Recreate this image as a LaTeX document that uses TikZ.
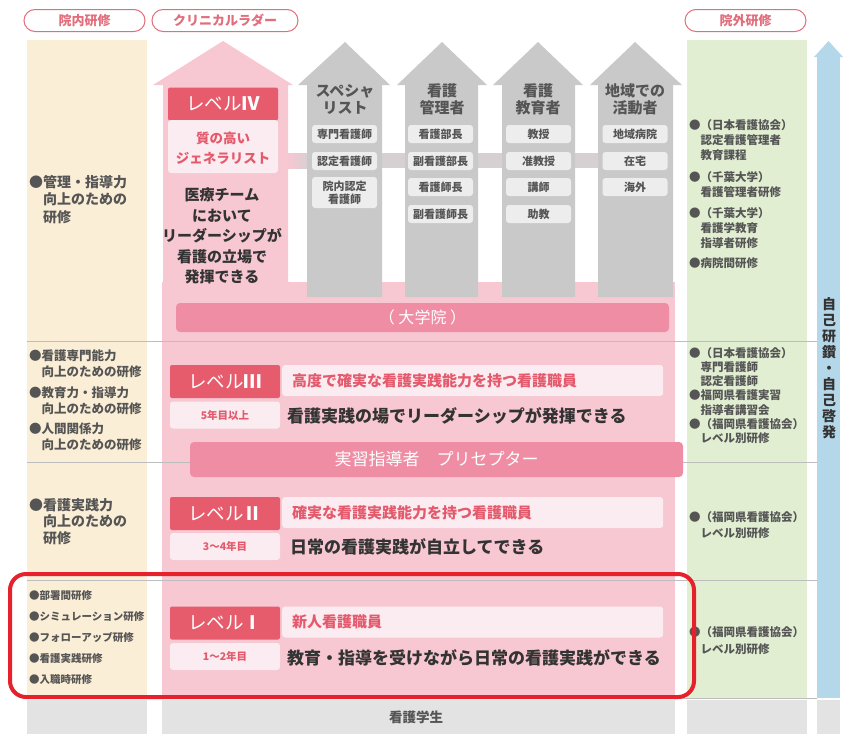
\documentclass[tikz,border=0pt]{standalone}
\usepackage{fontspec}
\setmainfont{Noto Sans CJK JP}
\newcommand\myfs[2]{\fontsize{#1}{#2}\selectfont}
\definecolor{beige}{HTML}{FBEED6}
\definecolor{pinkc}{HTML}{F7C7D2}
\definecolor{redhd}{HTML}{E65C6C}
\definecolor{lightpk}{HTML}{FBECF1}
\definecolor{subpk}{HTML}{E45A6C}
\definecolor{barpk}{HTML}{EF8DA4}
\definecolor{graya}{HTML}{C9C9C9}
\definecolor{graybar}{HTML}{D6D0D2}
\definecolor{grayb}{HTML}{EDEDED}
\definecolor{grayt}{HTML}{555555}
\definecolor{greenc}{HTML}{E1EED2}
\definecolor{bluec}{HTML}{B4D8EA}
\definecolor{band}{HTML}{E3E3E3}
\definecolor{pillc}{HTML}{E26D7B}
\definecolor{hl}{HTML}{E6212B}
\definecolor{dark}{HTML}{333333}
\definecolor{sep}{HTML}{BDBDBD}
\begin{document}
\begin{tikzpicture}[x=1pt,y=-1pt,
  pill/.style={draw=pillc,line width=1pt,fill=white,rounded corners=11pt,minimum height=22pt,text=pillc,font=\myfs{13}{15}\bfseries,inner sep=0pt},
  lvhead/.style={fill=redhd,rounded corners=2pt,minimum width=110pt,minimum height=33pt,text=white,font=\myfs{18.5}{20},inner sep=0pt},
  lightbox/.style={fill=lightpk,rounded corners=3pt,inner sep=0pt},
  yearbox/.style={lightbox,minimum width=110pt,minimum height=27pt,text=subpk,font=\myfs{10.5}{12}\bfseries},
  subtxt/.style={text=subpk,font=\myfs{15}{17}\bfseries,inner sep=0pt,anchor=west},
  darktxt/.style={text=dark,font=\myfs{17}{19}\bfseries,inner sep=0pt,anchor=west},
  graybox/.style={fill=grayb,rounded corners=3pt,minimum width=65pt,minimum height=18pt,text=grayt,font=\myfs{11}{13}\bfseries,inner sep=0pt,align=center},
  arrowtitle/.style={text=grayt,font=\myfs{15}{16.5}\bfseries,align=center,inner sep=0pt},
  coltxt/.style={text=grayt,inner sep=0pt,align=left,anchor=west},
  bigbar/.style={fill=barpk,rounded corners=4pt,inner sep=0pt,text=white}
]
\useasboundingbox (0,0) rectangle (843,734);
% header pills
\node[pill,minimum width=121pt] (p1) at (84.5,20.5) {院内研修};
\node[pill,minimum width=146pt] (p2) at (225,20.5) {クリニカルラダー};
\node[pill,minimum width=121pt] (p3) at (745.5,20.5) {院外研修};
% columns
\fill[beige] (27,40) rectangle (147,698);
\fill[greenc] (687,40) rectangle (807,698);
\fill[bluec] (817,56) rectangle (840,698);
\fill[bluec] (814,57) -- (828.5,41) -- (843,57) -- cycle;
\fill[pinkc] (162,282) rectangle (675,698);
% level IV arrow
\fill[pinkc] (163,290) -- (163,85) -- (153,85) -- (223,41) -- (293,85) -- (288,85) -- (288,290) -- cycle;
% connecting bar
\fill[left color=pinkc,right color=graybar] (287,153) rectangle (310,168);
\fill[graybar] (310,153) rectangle (600,168);
% gray arrows
\foreach \a/\sl/\sr/\rl/\rr in {345/307/382/298/390,442/405/478/397/487,538/502/575/493/583,635/598/673/590/682}
  \fill[graya] (\sl,297) -- (\sl,85) -- (\rl,85) -- (\a,42) -- (\rr,85) -- (\sr,85) -- (\sr,297) -- cycle;
% arrow titles
\node[arrowtitle] (t1) at (345,99.5) {スペシャ\\リスト};
\node[arrowtitle] (t2) at (442,99.5) {看護\\管理者};
\node[arrowtitle] (t3) at (538,99.5) {看護\\教育者};
\node[arrowtitle] (t4) at (635,99.5) {地域での\\活動者};
% gray boxes
\node[graybox] (b11) at (344.5,134) {専門看護師};
\node[graybox] (b12) at (344.5,161) {認定看護師};
\node[graybox,minimum height=31pt,font=\myfs{11}{13}\bfseries] (b13) at (344.5,192.5) {院内認定\\看護師};
\node[graybox] (b21) at (440.5,134) {看護部長};
\node[graybox] (b22) at (440.5,161) {副看護部長};
\node[graybox] (b23) at (440.5,187) {看護師長};
\node[graybox] (b24) at (440.5,214) {副看護師長};
\node[graybox] (b31) at (538.5,134) {教授};
\node[graybox] (b32) at (538.5,161) {准教授};
\node[graybox] (b33) at (538.5,187) {講師};
\node[graybox] (b34) at (538.5,214) {助教};
\node[graybox] (b41) at (635,134) {地域病院};
\node[graybox] (b42) at (635,161) {在宅};
\node[graybox] (b43) at (635,187) {海外};
% separator lines
\foreach \yy in {341,462,580,698}
  \draw[sep,line width=0.8pt] (27,\yy) -- (817,\yy);
% bottom band
\fill[band] (27,700) rectangle (147,734);
\fill[band] (162,700) rectangle (675,734);
\fill[band] (687,700) rectangle (807,734);
\fill[band] (817,700) rectangle (840,734);
\node[text=grayt,font=\myfs{13.5}{15}\bfseries] (student) at (416,717) {看護学生};
% Level IV
\node[lvhead] (l4h) at (223,104) {レベル{\bfseries Ⅳ}};
\node[lightbox,minimum width=110pt,minimum height=53pt] (l4s) at (223,146.5) {};
\node[text=subpk,font=\myfs{13.5}{20}\bfseries,align=center,inner sep=0pt] (l4st) at (223,148) {質の高い\\ジェネラリスト};
\node[text=dark,font=\myfs{15}{20.5}\bfseries,align=center,inner sep=0pt] (l4d) at (222,236) {医療チーム\\において\\リーダーシップが\\看護の立場で\\発揮できる};
% daigakuin bar
\node[bigbar,minimum width=493pt,minimum height=29pt,font=\myfs{16}{18}] (dai) at (422.5,317.5) {（ 大学院 ）};
% Level III
\node[lvhead] (l3h) at (225,381.5) {レベル{\bfseries Ⅲ}};
\node[lightbox,minimum width=381pt,minimum height=31pt,anchor=west] (l3s) at (282,380.5) {};
\node[subtxt] (l3st) at ([xshift=10pt]l3s.west) {高度で確実な看護実践能力を持つ看護職員};
\node[yearbox] (l3y) at (225,415) {5年目以上};
\node[darktxt] (l3d) at (287,416) {看護実践の場でリーダーシップが発揮できる};
% preceptor bar
\node[bigbar,minimum width=493pt,minimum height=35pt,font=\myfs{17}{19}] (prec) at (436.5,459.5) {実習指導者　プリセプター};
% Level II
\node[lvhead] (l2h) at (225,513.5) {レベル{\bfseries Ⅱ}};
\node[lightbox,minimum width=381pt,minimum height=31pt,anchor=west] (l2s) at (282,512.5) {};
\node[subtxt] (l2st) at ([xshift=10pt]l2s.west) {確実な看護実践能力を持つ看護職員};
\node[yearbox] (l2y) at (225,546.5) {3～4年目};
\node[darktxt] (l2d) at (290,547) {日常の看護実践が自立してできる};
% Level I
\node[lvhead] (l1h) at (225,623) {レベル{\bfseries Ⅰ}};
\node[lightbox,minimum width=381pt,minimum height=31pt,anchor=west] (l1s) at (282,622) {};
\node[subtxt] (l1st) at ([xshift=10pt]l1s.west) {新人看護職員};
\node[yearbox] (l1y) at (225,656.5) {1～2年目};
\node[darktxt] (l1d) at (287,658) {教育・指導を受けながら日常の看護実践ができる};
% left column texts
\node[coltxt,font=\myfs{14}{17.5}\bfseries] (lc4) at (29,199.5) {●管理・指導力\\\hphantom{●}向上のための\\\hphantom{●}研修};
\node[coltxt,font=\myfs{12.5}{16}\bfseries] (lc3a) at (29,363.5) {●看護専門能力\\\hphantom{●}向上のための研修};
\node[coltxt,font=\myfs{12.5}{16}\bfseries] (lc3b) at (29,400.5) {●教育力・指導力\\\hphantom{●}向上のための研修};
\node[coltxt,font=\myfs{12.5}{16}\bfseries] (lc3c) at (29,436.5) {●人間関係力\\\hphantom{●}向上のための研修};
\node[coltxt,font=\myfs{14}{16.5}\bfseries] (lc2) at (29,521.5) {●看護実践力\\\hphantom{●}向上のための\\\hphantom{●}研修};
\node[coltxt,font=\myfs{10.5}{21}\bfseries] (lc1) at (29,637.5) {●部署間研修\\●シミュレーション研修\\●フォローアップ研修\\●看護実践研修\\●入職時研修};
% right column texts
\node[coltxt,font=\myfs{11.5}{15}\bfseries] (rc4a) at (689,140) {●（日本看護協会）\\\hphantom{●}認定看護管理者\\\hphantom{●}教育課程};
\node[coltxt,font=\myfs{11.5}{15}\bfseries] (rc4b) at (689,184.5) {●（千葉大学）\\\hphantom{●}看護管理者研修};
\node[coltxt,font=\myfs{11.5}{15}\bfseries] (rc4c) at (689,228) {●（千葉大学）\\\hphantom{●}看護学教育\\\hphantom{●}指導者研修};
\node[coltxt,font=\myfs{11.5}{15}\bfseries] (rc4d) at (689,263) {●病院間研修};
\node[coltxt,font=\myfs{11.5}{14.2}\bfseries] (rc3) at (689,395.5) {●（日本看護協会）\\\hphantom{●}専門看護師\\\hphantom{●}認定看護師\\●福岡県看護実習\\\hphantom{●}指導者講習会\\●（福岡県看護協会）\\\hphantom{●}レベル別研修};
\node[coltxt,font=\myfs{11.5}{16}\bfseries] (rc2) at (689,525) {●（福岡県看護協会）\\\hphantom{●}レベル別研修};
\node[coltxt,font=\myfs{11.5}{17}\bfseries] (rc1) at (689,640.5) {●（福岡県看護協会）\\\hphantom{●}レベル別研修};
% vertical text
\node[text=dark,font=\myfs{14}{16}\bfseries,align=center,inner sep=0pt] (vt) at (829,368) {自\\己\\研\\鑽\\・\\自\\己\\啓\\発};
% highlight
\draw[hl,line width=4pt,rounded corners=16pt] (10,574) rectangle (694,697);
\end{tikzpicture}
\end{document}
